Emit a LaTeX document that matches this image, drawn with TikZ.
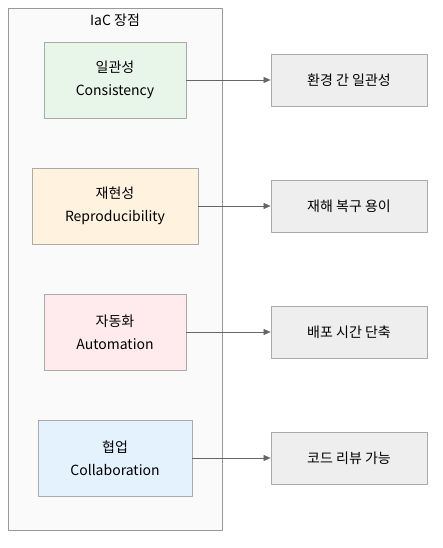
\documentclass[tikz,border=0pt]{standalone}
\usepackage{fontspec}
\setmainfont{Noto Sans CJK KR}
\usetikzlibrary{arrows.meta,positioning}
\definecolor{groupfill}{HTML}{FAFAFA}
\definecolor{groupline}{HTML}{999999}
\definecolor{boxline}{HTML}{AAAAAA}
\definecolor{greenfill}{HTML}{E8F5E9}
\definecolor{orangefill}{HTML}{FFF3E0}
\definecolor{pinkfill}{HTML}{FFEBEE}
\definecolor{bluefill}{HTML}{E3F2FD}
\definecolor{resultfill}{HTML}{EEEEEE}
\definecolor{arrowline}{HTML}{666666}
\tikzset{
  merit/.style={draw=boxline,line width=0.8pt,minimum height=76pt,align=center,inner sep=0pt},
  result/.style={draw=boxline,fill=resultfill,line width=0.8pt,minimum width=156pt,minimum height=52pt,inner sep=0pt},
  link/.style={draw=arrowline,line width=0.6pt,-{Triangle[length=7pt,width=6pt]}}
}
\begin{document}
\begin{tikzpicture}[x=1pt,y=-1pt,font=\fontsize{14}{23}\selectfont,line join=round]
	\useasboundingbox (0,0) rectangle (443,548);
	% group frame
	\draw[groupline,fill=groupfill,line width=0.8pt] (8,8) rectangle (222,530);
	\node (title) at (115,20) {IaC 장점};
	
	% merits
	\node[merit,fill=greenfill,minimum width=142pt] (consistency) at (115,80) {일관성\\Consistency};
	\node[merit,fill=orangefill,minimum width=166pt] (reproduce) at (115,206) {재현성\\Reproducibility};
	\node[merit,fill=pinkfill,minimum width=142pt] (automation) at (115,332) {자동화\\Automation};
	\node[merit,fill=bluefill,minimum width=154pt] (collab) at (115,458) {협업\\Collaboration};
	
	% results
	\node[result] (env) at (349,80) {환경 간 일관성};
	\node[result] (recover) at (349,206) {재해 복구 용이};
	\node[result] (deploy) at (349,332) {배포 시간 단축};
	\node[result] (review) at (349,458) {코드 리뷰 가능};
	
	\draw[link] (consistency) -- (env);
	\draw[link] (reproduce) -- (recover);
	\draw[link] (automation) -- (deploy);
	\draw[link] (collab) -- (review);
\end{tikzpicture}
\end{document}
